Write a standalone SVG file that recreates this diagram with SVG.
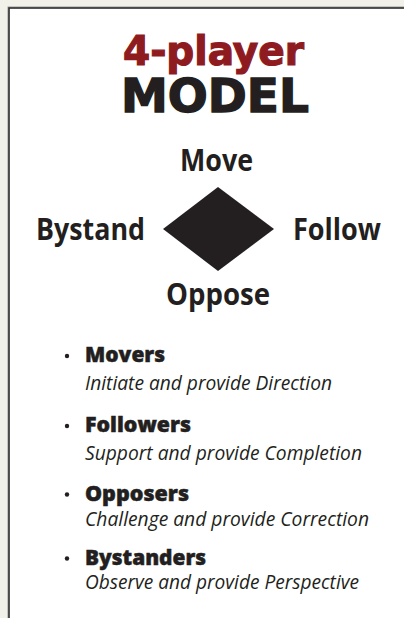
<svg xmlns="http://www.w3.org/2000/svg" width="404" height="618" viewBox="0 0 404 618">
<style>
.title{font-family:"DejaVu Sans","Liberation Sans",sans-serif;font-weight:700;}
.lab{font-family:"Open Sans","Liberation Sans",sans-serif;font-weight:700;font-size:31px;fill:#231f20;}
.head{font-family:"Open Sans","Liberation Sans",sans-serif;font-weight:800;font-size:21px;fill:#231f20;stroke:#231f20;stroke-width:0.5;}
.desc{font-family:"Open Sans","Liberation Sans",sans-serif;font-style:italic;font-size:19.5px;fill:#231f20;}
.dot{fill:#231f20;}
</style>
<rect x="0" y="0" width="404" height="618" fill="#f1f0e9"/>
<rect x="8" y="7" width="420" height="640" fill="#ffffff" stroke="#9a9a96" stroke-width="1"/>
<rect x="9" y="8" width="420" height="640" fill="none" stroke="#2b2b2b" stroke-width="1.6"/>
<g id="title">
<text class="title" x="123" y="65" font-size="40" fill="#8e1b1f" stroke="#8e1b1f" stroke-width="1.2" textLength="181" lengthAdjust="spacingAndGlyphs">4-player</text>
<text class="title" x="121" y="112" font-size="46" fill="#231f20" stroke="#231f20" stroke-width="1.4" textLength="188" lengthAdjust="spacingAndGlyphs">MODEL</text>
</g>
<g id="diamond">
<polygon points="218,187 274,229 218,271 163,229" fill="#231f20"/>
</g>
<g id="move"><text class="lab" x="180" y="171" textLength="73" lengthAdjust="spacingAndGlyphs">Move</text></g>
<g id="bystand"><text class="lab" x="36" y="240" textLength="109" lengthAdjust="spacingAndGlyphs">Bystand</text></g>
<g id="follow"><text class="lab" x="293" y="240" textLength="88" lengthAdjust="spacingAndGlyphs">Follow</text></g>
<g id="oppose"><text class="lab" x="166" y="305" textLength="104" lengthAdjust="spacingAndGlyphs">Oppose</text></g>
<g id="connectors"></g>
<g id="movers">
<circle class="dot" cx="67" cy="356" r="2.2"/>
<text class="head" x="85" y="362" textLength="80" lengthAdjust="spacingAndGlyphs">Movers</text>
<text class="desc" x="85" y="390" textLength="247" lengthAdjust="spacingAndGlyphs">Initiate and provide Direction</text>
</g>
<g id="followers">
<circle class="dot" cx="67" cy="426" r="2.2"/>
<text class="head" x="85" y="432" textLength="106" lengthAdjust="spacingAndGlyphs">Followers</text>
<text class="desc" x="85" y="460" textLength="277" lengthAdjust="spacingAndGlyphs">Support and provide Completion</text>
</g>
<g id="opposers">
<circle class="dot" cx="67" cy="494.5" r="2.2"/>
<text class="head" x="85" y="500.5" textLength="104" lengthAdjust="spacingAndGlyphs">Opposers</text>
<text class="desc" x="85" y="526" textLength="284" lengthAdjust="spacingAndGlyphs">Challenge and provide Correction</text>
</g>
<g id="bystanders">
<circle class="dot" cx="67" cy="558.5" r="2.2"/>
<text class="head" x="85" y="564.5" textLength="121" lengthAdjust="spacingAndGlyphs">Bystanders</text>
<text class="desc" x="85" y="589" textLength="274" lengthAdjust="spacingAndGlyphs">Observe and provide Perspective</text>
</g>
</svg>
